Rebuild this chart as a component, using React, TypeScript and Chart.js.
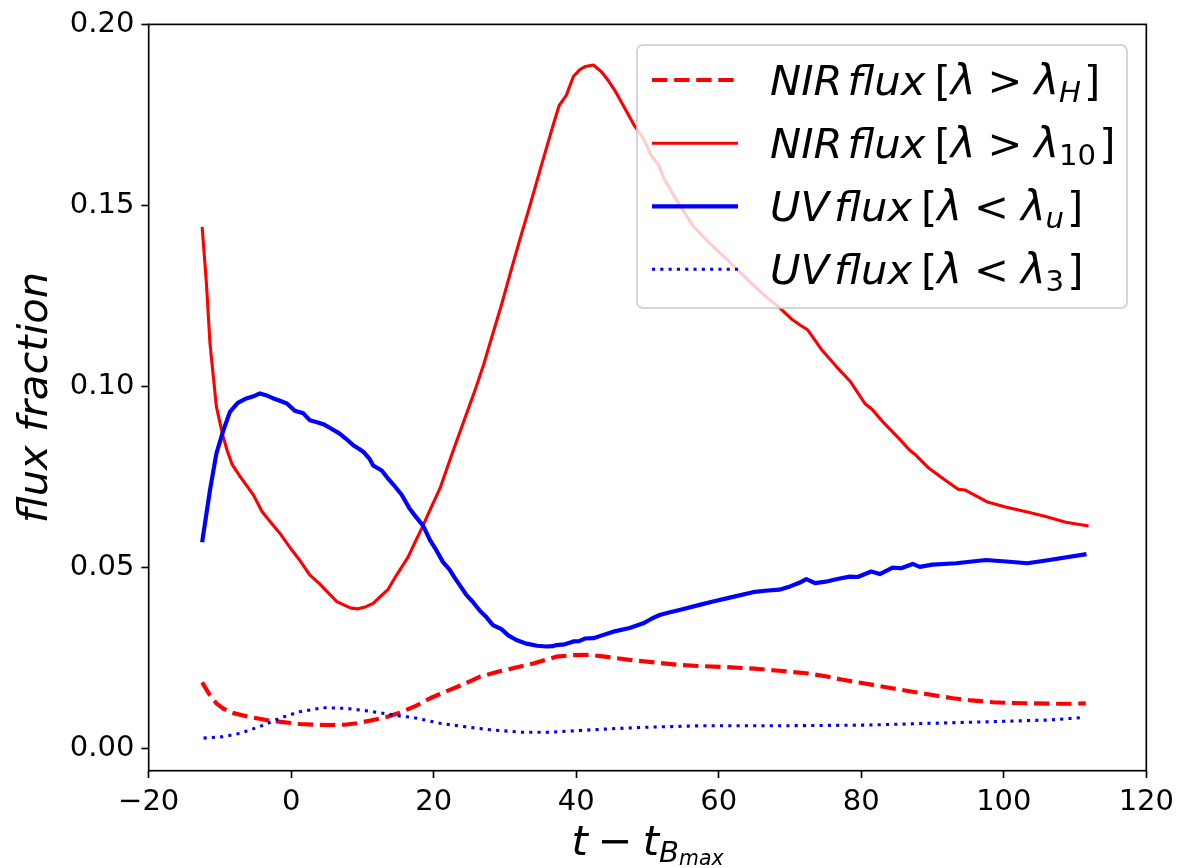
import React, { useEffect, useRef } from "react";
import { Chart, registerables } from "chart.js";

Chart.register(...registerables);

// ---- data ----
const nirHDays = [-12.5, -11.5, -10.5, -9.5, -8.1, -6, -3.5, -1.5, 1.2, 3.5, 5.4, 7.5, 9.2, 11.5, 13.5, 15.2, 17.5, 19.5, 22, 24, 26.5, 29, 31.1, 34, 37.2, 39.5, 41.9, 44, 47.5, 51, 54.5, 57.3, 61, 65, 68.5, 72.3, 75, 77.4, 79.5, 81.6, 84.5, 87.2, 90, 92.9, 95.5, 98.5, 101, 104.1, 107, 109.5, 111.5];
const nirHFlux = [0.0183, 0.015, 0.0125, 0.011, 0.0098, 0.0088, 0.0079, 0.0074, 0.0068, 0.0066, 0.0065, 0.0066, 0.007, 0.0079, 0.0088, 0.0099, 0.0118, 0.0139, 0.016, 0.0176, 0.0199, 0.0212, 0.0222, 0.0235, 0.0254, 0.0258, 0.0259, 0.0254, 0.0245, 0.0238, 0.0231, 0.0228, 0.0225, 0.0221, 0.0215, 0.0208, 0.02, 0.019, 0.0183, 0.0176, 0.0166, 0.0157, 0.0148, 0.0139, 0.0133, 0.0128, 0.0126, 0.0125, 0.0124, 0.0124, 0.0125];

const nir10Days = [-12.5, -11.9, -11.4, -10.5, -9.6, -9.0, -8.3, -7.3, -6.2, -5.3, -4.1, -3.0, -1.6, 0.06, 1.2, 2.6, 4.0, 5.2, 6.4, 7.6, 8.4, 9.4, 10.5, 11.5, 12.5, 13.6, 14.8, 16.4, 17.5, 18.5, 19.5, 20.9, 22.5, 24.6, 25.8, 27.0, 27.9, 29.5, 31.1, 32.3, 33.5, 35.1, 36.7, 37.6, 38.6, 39.6, 40.5, 41.3, 42.4, 43.5, 44.5, 45.4, 46.6, 48.2, 49.4, 50.5, 51.5, 52.4, 54.1, 56.4, 58.7, 61.3, 64.3, 66.5, 68.4, 70.3, 71.4, 72.5, 74.5, 76.5, 78.5, 80.5, 81.5, 83.0, 85.5, 86.8, 87.5, 89.5, 91.5, 93.6, 94.6, 97.6, 100.1, 103.6, 106, 108.7, 111.9];
const nir10Flux = [0.1441, 0.1285, 0.1119, 0.0944, 0.0865, 0.0824, 0.0785, 0.0755, 0.0725, 0.07, 0.0655, 0.0628, 0.0595, 0.0549, 0.052, 0.048, 0.0455, 0.043, 0.0406, 0.0395, 0.0388, 0.0386, 0.0392, 0.0401, 0.042, 0.044, 0.048, 0.0529, 0.0575, 0.0616, 0.066, 0.072, 0.081, 0.0925, 0.099, 0.106, 0.112, 0.1225, 0.1338, 0.142, 0.15, 0.161, 0.1718, 0.1776, 0.1804, 0.1856, 0.1875, 0.1884, 0.1888, 0.187, 0.1845, 0.1818, 0.1776, 0.1719, 0.1686, 0.1638, 0.1614, 0.1571, 0.1514, 0.1443, 0.1396, 0.1348, 0.129, 0.125, 0.122, 0.1185, 0.117, 0.1156, 0.11, 0.1055, 0.1013, 0.0953, 0.0937, 0.0903, 0.0852, 0.0824, 0.0813, 0.0774, 0.0745, 0.0716, 0.0714, 0.0682, 0.0668, 0.0652, 0.064, 0.0625, 0.0615];

const uvUDays = [-12.5, -11.4, -10.5, -9.5, -8.6, -7.5, -6.3, -5.3, -4.4, -3.4, -2.5, -1.5, -0.6, 0.5, 1.7, 2.6, 3.5, 4.5, 5.4, 6.8, 7.6, 8.7, 9.5, 10.1, 11.0, 11.5, 12.7, 13.5, 14.3, 15.5, 16.6, 17.5, 18.5, 19.5, 20.3, 21.3, 22.2, 23.0, 24.6, 25.5, 26.5, 27.3, 28.3, 29.5, 30.5, 31.6, 33.0, 34.5, 35.8, 36.7, 37.2, 38.4, 39.6, 40.4, 41.2, 42.4, 43.5, 45.2, 47.5, 49.4, 50.5, 51.7, 53.0, 54.5, 57.3, 59.2, 62.0, 64.8, 66.5, 68.5, 70.0, 71.3, 72.3, 73.5, 75.0, 76.8, 78.4, 79.5, 81.4, 82.6, 84.4, 85.6, 87.2, 88.2, 90.0, 93.3, 97.5, 100.8, 103.3, 106.4, 111.6];
const uvUFlux = [0.057, 0.0714, 0.0815, 0.088, 0.093, 0.0955, 0.0967, 0.0973, 0.0981, 0.0975, 0.0967, 0.096, 0.0953, 0.0933, 0.0926, 0.0907, 0.0902, 0.0896, 0.0886, 0.087, 0.0857, 0.0838, 0.0828, 0.082, 0.08, 0.0782, 0.0768, 0.0748, 0.073, 0.0701, 0.0663, 0.064, 0.0616, 0.0575, 0.055, 0.0515, 0.0495, 0.047, 0.0424, 0.0405, 0.038, 0.0365, 0.0341, 0.033, 0.0312, 0.03, 0.029, 0.0284, 0.0282, 0.0283, 0.0286, 0.0288, 0.0296, 0.0297, 0.0304, 0.0305, 0.0312, 0.0323, 0.0333, 0.0346, 0.0358, 0.0369, 0.0376, 0.0383, 0.0397, 0.0406, 0.0419, 0.0432, 0.0436, 0.0439, 0.0448, 0.0458, 0.0468, 0.0457, 0.0461, 0.0469, 0.0475, 0.0474, 0.0489, 0.0482, 0.05, 0.0498, 0.051, 0.0502, 0.0508, 0.0512, 0.0521, 0.0516, 0.0512, 0.0521, 0.0537];

const uv3Days = [-12.3, -9.5, -7.2, -4.4, -1.6, 1.2, 4.5, 7.8, 11.5, 15.2, 17.1, 20.9, 24.1, 27.9, 32.5, 36, 40.5, 45, 49.8, 57.3, 68.5, 80.7, 90, 99.4, 106.4, 111.1];
const uv3Flux = [0.0029, 0.0033, 0.0042, 0.0061, 0.0084, 0.0102, 0.0113, 0.0111, 0.0102, 0.009, 0.0086, 0.007, 0.0061, 0.0052, 0.0045, 0.0045, 0.005, 0.0055, 0.0059, 0.0063, 0.0063, 0.0065, 0.007, 0.0075, 0.0079, 0.0086];

const xTickValues = [-20, 0, 20, 40, 60, 80, 100, 120];
const yTickValues = [0, 0.05, 0.1, 0.15, 0.2];

const RED = "#ff0000";
const BLUE = "#0000ff";
const FONT = '"DejaVu Sans"';

type Piece = { t: string; it?: boolean; level?: number; gap?: number };

function legendPieces(band: string, rel: string, sub: string, subItalic: boolean): Piece[] {
  return [
    { t: band, it: true },
    { t: "flux", it: true, gap: 5 },
    { t: "[", gap: 9 },
    { t: "λ", it: true },
    { t: rel, gap: 12 },
    { t: "λ", it: true, gap: 12 },
    { t: sub, it: subItalic, level: 1 },
    { t: "]", gap: 3 },
  ];
}

const legendEntries: { pieces: Piece[]; color: string; width: number; dash: number[] }[] = [
  { pieces: legendPieces("NIR", ">", "H", true), color: RED, width: 4.17, dash: [15.4, 6.7] },
  { pieces: legendPieces("NIR", ">", "10", false), color: RED, width: 3.1, dash: [] },
  { pieces: legendPieces("UV", "<", "u", true), color: BLUE, width: 4.17, dash: [] },
  { pieces: legendPieces("UV", "<", "3", false), color: BLUE, width: 3.1, dash: [3.1, 5.2] },
];

const xTitlePieces: Piece[] = [
  { t: "t", it: true }, { t: "−", gap: 10 }, { t: "t", it: true, gap: 10 }, { t: "B", it: true, level: 1 }, { t: "max", it: true, level: 2 },
];

const LABEL_SIZE = 41.7;

function pieceFont(p: Piece, size: number) {
  const lv = p.level || 0;
  const fs = size * Math.pow(0.7, lv);
  return `${p.it ? "italic " : ""}${fs}px ${FONT}`;
}
function pieceDrop(p: Piece, size: number) {
  const lv = p.level || 0;
  if (lv === 0) return 0;
  if (lv === 1) return size * 0.17;
  return size * 0.25;
}
function measurePieces(ctx: CanvasRenderingContext2D, pieces: Piece[], size: number) {
  let w = 0;
  for (const p of pieces) {
    w += p.gap || 0;
    ctx.font = pieceFont(p, size);
    w += ctx.measureText(p.t).width;
  }
  return w;
}
function drawPieces(ctx: CanvasRenderingContext2D, pieces: Piece[], x: number, y: number, size: number) {
  let cx = x;
  ctx.textAlign = "left";
  ctx.textBaseline = "alphabetic";
  for (const p of pieces) {
    cx += p.gap || 0;
    ctx.font = pieceFont(p, size);
    ctx.fillText(p.t, cx, y + pieceDrop(p, size));
    cx += ctx.measureText(p.t).width;
  }
}

const decorPlugin = {
  id: "decor",
  afterDatasetsDraw(chart: any) {
    const ctx: CanvasRenderingContext2D = chart.ctx;
    const a = chart.chartArea;
    ctx.save();
    // frame (spines)
    ctx.strokeStyle = "#000";
    ctx.lineWidth = 1.67;
    ctx.strokeRect(a.left, a.top, a.right - a.left, a.bottom - a.top);

    // legend box
    const bx = 637, by = 45, bw = 490, bh = 263, r = 6;
    ctx.beginPath();
    ctx.moveTo(bx + r, by);
    ctx.arcTo(bx + bw, by, bx + bw, by + bh, r);
    ctx.arcTo(bx + bw, by + bh, bx, by + bh, r);
    ctx.arcTo(bx, by + bh, bx, by, r);
    ctx.arcTo(bx, by, bx + bw, by, r);
    ctx.closePath();
    ctx.fillStyle = "rgba(255,255,255,0.8)";
    ctx.fill();
    ctx.strokeStyle = "rgba(204,204,204,0.8)";
    ctx.lineWidth = 2;
    ctx.stroke();

    const rowY = [80, 143.3, 206.3, 269.3];
    legendEntries.forEach((e, i) => {
      const y = rowY[i];
      ctx.beginPath();
      ctx.setLineDash(e.dash);
      ctx.lineCap = "butt";
      ctx.strokeStyle = e.color;
      ctx.lineWidth = e.width;
      ctx.moveTo(652, y);
      ctx.lineTo(738, y);
      ctx.stroke();
      ctx.setLineDash([]);
      ctx.fillStyle = "#000";
      drawPieces(ctx, e.pieces, 770, y + 14.5, LABEL_SIZE);
    });

    // x axis title
    ctx.fillStyle = "#000";
    const tw = measurePieces(ctx, xTitlePieces, LABEL_SIZE);
    const cx = (a.left + a.right) / 2;
    drawPieces(ctx, xTitlePieces, cx - tw / 2, 855, LABEL_SIZE);

    // y axis title
    ctx.translate(47, (a.top + a.bottom) / 2);
    ctx.rotate(-Math.PI / 2);
    ctx.font = `italic ${LABEL_SIZE}px ${FONT}`;
    ctx.textAlign = "center";
    ctx.textBaseline = "alphabetic";
    ctx.fillText("flux fraction", 0, 0);
    ctx.restore();
  },
};

function toPoints(xs: number[], ys: number[]) {
  return xs.map((x, i) => ({ x, y: ys[i] }));
}

export default function App() {
  const ref = useRef<HTMLCanvasElement>(null);
  useEffect(() => {
    const canvas = ref.current!;
    const chart = new Chart(canvas, {
      type: "line",
      data: {
        datasets: [
          { label: "NIR H", data: toPoints(nirHDays, nirHFlux), borderColor: RED, borderWidth: 4.17, borderDash: [15.4, 6.7], order: 3 },
          { label: "NIR 10", data: toPoints(nir10Days, nir10Flux), borderColor: RED, borderWidth: 3.1, order: 2 },
          { label: "UV u", data: toPoints(uvUDays, uvUFlux), borderColor: BLUE, borderWidth: 4.17, order: 1 },
          { label: "UV 3", data: toPoints(uv3Days, uv3Flux), borderColor: BLUE, borderWidth: 3.1, borderDash: [3.1, 5.2], order: 0 },
        ].map((d) => ({ ...d, pointRadius: 0, fill: false, tension: 0, borderCapStyle: "butt", borderJoinStyle: "round" })) as any,
      },
      plugins: [decorPlugin],
      options: {
        responsive: false,
        devicePixelRatio: 1,
        animation: false,
        layout: { padding: { left: 0, top: 24, right: 34.3, bottom: 0 } },
        plugins: { legend: { display: false }, tooltip: { enabled: false } },
        scales: {
          x: {
            type: "linear",
            min: -20,
            max: 120,
            afterBuildTicks: (s: any) => { s.ticks = xTickValues.map((v) => ({ value: v })); },
            afterFit: (s: any) => { s.height = 97.3; },
            ticks: {
              color: "#000",
              font: { family: "DejaVu Sans", size: 29 },
              padding: 7,
              maxRotation: 0,
              autoSkip: false,
              callback: (v: any) => (Number(v) < 0 ? "−" + Math.abs(Number(v)) : String(v)),
            },
            grid: { display: true, drawOnChartArea: false, drawTicks: true, tickLength: 7.3, tickWidth: 1.67, tickColor: "#000" },
            border: { display: false },
          },
          y: {
            type: "linear",
            min: -0.0061,
            max: 0.2,
            afterBuildTicks: (s: any) => { s.ticks = yTickValues.map((v) => ({ value: v })); },
            afterFit: (s: any) => { s.width = 148.7; },
            ticks: {
              color: "#000",
              font: { family: "DejaVu Sans", size: 29 },
              padding: 7,
              autoSkip: false,
              callback: (v: any) => Number(v).toFixed(2),
            },
            grid: { display: true, drawOnChartArea: false, drawTicks: true, tickLength: 7.3, tickWidth: 1.67, tickColor: "#000" },
            border: { display: false },
          },
        },
      },
    });
    return () => chart.destroy();
  }, []);
  return (
    <div style={{ position: "absolute", left: 0, top: 0, width: 1181, height: 868, background: "#fff" }}>
      <canvas ref={ref} width={1181} height={868} style={{ display: "block" }} />
    </div>
  );
}
